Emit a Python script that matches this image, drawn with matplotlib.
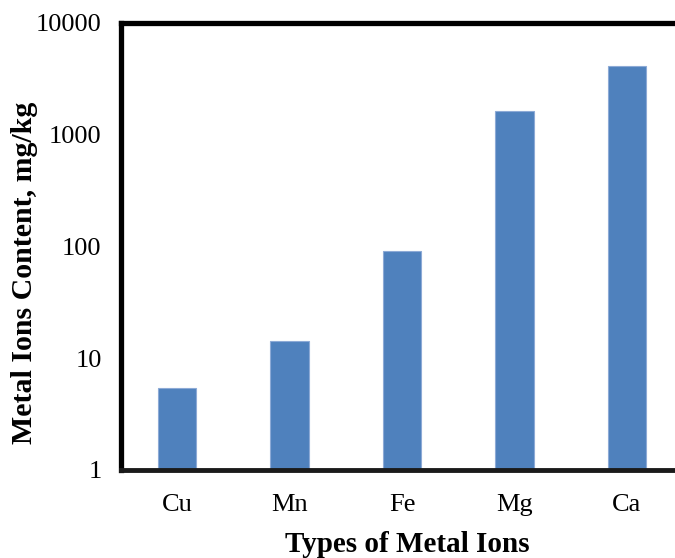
import matplotlib.pyplot as plt
import numpy as np

# metal ion content (log scale)
ions = ["Cu", "Mn", "Fe", "Mg", "Ca"]
content = [5.4, 14.2, 90, 1610, 4050]
y_ticks = [1, 10, 100, 1000, 10000]
y_tick_labels = ["1", "10", "100", "1000", "10000"]

plt.rcParams['font.family'] = ['Liberation Serif', 'DejaVu Serif']

fig = plt.figure(figsize=(6.75, 5.58), dpi=100)
ax = fig.add_axes([121 / 675, 88 / 558, 562 / 675, 447.5 / 558])

x = np.arange(len(ions))
ax.bar(x, content, width=0.34, color="#4F81BD", edgecolor="#8DAAD6",
       linewidth=0.8, zorder=2)

ax.set_yscale("log")
ax.set_ylim(1, 10000)
ax.set_xlim(-0.5, len(ions) - 0.5)
ax.set_yticks(y_ticks)
ax.set_yticklabels(y_tick_labels)
ax.minorticks_off()
ax.set_xticks(x)
ax.set_xticklabels(ions)
ax.tick_params(axis="both", length=0, labelsize=19)
ax.tick_params(axis="y", pad=14)
ax.tick_params(axis="x", pad=17)

for side in ["left", "top"]:
    ax.spines[side].set_linewidth(3.8)
    ax.spines[side].set_color("black")
ax.spines["right"].set_visible(False)
ax.spines["bottom"].set_linewidth(3.5)
ax.spines["bottom"].set_color("#1a1a1a")
ax.spines["bottom"].set_zorder(3)

ax.set_xlabel("Types of Metal Ions", fontsize=21, fontweight="bold")
ax.set_ylabel("Metal Ions Content, mg/kg", fontsize=21.5, fontweight="bold")
ax.xaxis.set_label_coords(0.51, -0.136)
ax.yaxis.set_label_coords(-0.148, 0.44)

fig.savefig("out.png", dpi=100)
